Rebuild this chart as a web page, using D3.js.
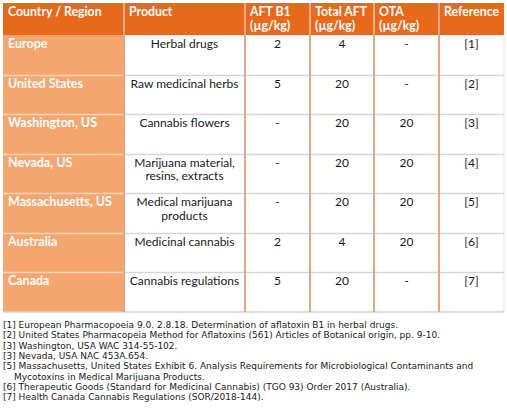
<!DOCTYPE html>
<html><head><meta charset="utf-8">
<script src="https://cdn.jsdelivr.net/npm/d3@7/dist/d3.min.js"></script>
<style>body{margin:0;background:#fff;} svg{display:block;}</style>
</head><body>
<script>
const headers = [["Country / Region"],["Product"],["AFT B1","(µg/kg)"],["Total AFT","(µg/kg)"],["OTA","(µg/kg)"],["Reference"]];
const countries = ["Europe","United States","Washington, US","Nevada, US","Massachusetts, US","Australia","Canada"];
const products = [["Herbal drugs"],["Raw medicinal herbs"],["Cannabis flowers"],["Marijuana material,","resins, extracts"],["Medical marijuana","products"],["Medicinal cannabis"],["Cannabis regulations"]];
const aftB1 = ["2","5","-","-","-","2","5"];
const totalAft = ["4","20","20","20","20","4","20"];
const ota = ["-","-","20","20","20","20","-"];
const refs = ["[1]","[2]","[3]","[4]","[5]","[6]","[7]"];
const footnotes = [
  ["[1] European Pharmacopoeia 9.0.  2.8.18. Determination of aflatoxin B1 in herbal drugs."],
  ["[2] United States Pharmacopeia Method for Aflatoxins (561) Articles of Botanical origin, pp. 9-10."],
  ["[3] Washington, USA WAC 314-55-102."],
  ["[3] Nevada, USA NAC 453A.654."],
  ["[5] Massachusetts, United States Exhibit 6. Analysis Requirements for Microbiological Contaminants and","Mycotoxins in Medical Marijuana Products."],
  ["[6] Therapeutic Goods (Standard for Medicinal Cannabis) (TGO 93) Order 2017 (Australia)."],
  ["[7] Health Canada Cannabis Regulations (SOR/2018-144)."]
];

const W = 507, H = 420;
const font = "Lato, 'Open Sans', sans-serif";
const noteFont = "'DejaVu Sans', sans-serif";
const svg = d3.select("body").append("svg").attr("width", W).attr("height", H);

const edges = [3,124,245,310,374,439,504];
const headTop = 3, headBot = 35, bodyBot = 312;
const y = d3.scaleBand().domain(d3.range(countries.length)).range([headBot, bodyBot]);

const cols = [countries.map(c=>[c]), products, aftB1.map(v=>[v]), totalAft.map(v=>[v]), ota.map(v=>[v]), refs.map(v=>[v])];

svg.append("rect").attr("x",edges[0]).attr("y",headTop).attr("width",edges[6]-edges[0]).attr("height",headBot-headTop).attr("fill","#E8691C");
svg.append("rect").attr("x",edges[0]).attr("y",headBot).attr("width",edges[1]-edges[0]).attr("height",bodyBot-headBot).attr("fill","#F5A66E");

const rowIdx = d3.range(1, countries.length);
svg.selectAll(".hl").data(rowIdx).join("line")
  .attr("x1",edges[1]).attr("x2",edges[6])
  .attr("y1",d=>Math.round(y(d))+0.5).attr("y2",d=>Math.round(y(d))+0.5)
  .attr("stroke","#d6d6d6").attr("stroke-width",1.5);
svg.selectAll(".hl1").data(rowIdx).join("line")
  .attr("x1",edges[0]).attr("x2",edges[1])
  .attr("y1",d=>Math.round(y(d))+0.5).attr("y2",d=>Math.round(y(d))+0.5)
  .attr("stroke","#FAD3B6").attr("stroke-width",1.5);
svg.append("line").attr("x1",edges[0]).attr("x2",edges[6]).attr("y1",bodyBot).attr("y2",bodyBot).attr("stroke","#d0d0d0").attr("stroke-width",1.5);

svg.selectAll(".vl").data(edges.slice(1,6)).join("line")
  .attr("x1",d=>d).attr("x2",d=>d).attr("y1",headBot).attr("y2",bodyBot)
  .attr("stroke","#E8A482").attr("stroke-width",2);
svg.selectAll(".vh").data(edges.slice(1,6)).join("line")
  .attr("x1",d=>d).attr("x2",d=>d).attr("y1",headTop).attr("y2",headBot)
  .attr("stroke","#F7C3A0").attr("stroke-width",1.5);
svg.append("line").attr("x1",edges[6]).attr("x2",edges[6]).attr("y1",headBot).attr("y2",bodyBot).attr("stroke","#e0e0e0").attr("stroke-width",1);

headers.forEach((lines,i)=>{
  lines.forEach((l,k)=>{
    svg.append("text").attr("x",edges[i]+5).attr("y",headTop+12.5+k*14)
      .attr("font-family",font).attr("font-size",12.3).attr("font-weight","bold").attr("fill","#fff").text(l);
  });
});

cols.forEach((col,i)=>{
  col.forEach((lines,r)=>{
    const first = i===0;
    const cx = first ? edges[0]+5 : (edges[i]+edges[i+1])/2;
    const t = svg.append("text").attr("x",cx).attr("y",y(r)+13)
      .attr("font-family",font).attr("font-size",first?12.5:12)
      .attr("font-weight",first?"bold":"normal")
      .attr("fill",first?"#fff":"#1a1a1a")
      .attr("text-anchor",first?"start":"middle");
    lines.forEach((l,k)=>t.append("tspan").attr("x",cx).attr("dy",k?13.5:0).text(l));
  });
});

let fy = 328;
footnotes.forEach(lines=>{
  lines.forEach((l,k)=>{
    svg.append("text").attr("x",k?14:3).attr("y",fy)
      .attr("font-family",noteFont).attr("font-size",9).attr("fill","#1a1a1a").text(l);
    fy += 10.3;
  });
});
</script>
</body></html>
